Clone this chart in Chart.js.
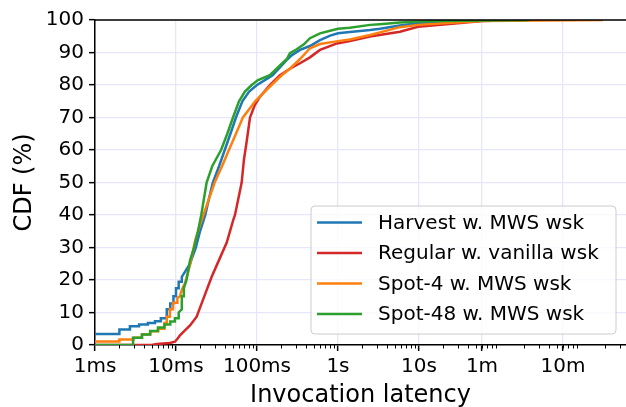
<!DOCTYPE html>
<html>
<head>
<meta charset="utf-8">
<script src="https://cdn.jsdelivr.net/npm/chart.js@4"></script>
<style>
  html, body { margin: 0; padding: 0; background: #fff; }
</style>
</head>
<body>
<canvas id="cdfChart" width="626" height="407"></canvas>
<script>
// latency in seconds, CDF in percent
const harvestLatency = [0.001, 0.002, 0.002, 0.0027, 0.0027, 0.0035, 0.0035, 0.0045, 0.0045, 0.0055, 0.0055, 0.0065, 0.0065, 0.0077, 0.0077, 0.0085, 0.0085, 0.0093, 0.0093, 0.0100, 0.0100, 0.0108, 0.0108, 0.0118, 0.0118, 0.0129, 0.0149, 0.0176, 0.0198, 0.023, 0.0255, 0.0285, 0.034, 0.040, 0.047, 0.055, 0.066, 0.080, 0.100, 0.125, 0.156, 0.202, 0.240, 0.270, 0.340, 0.451, 0.600, 0.800, 1.0, 1.4, 2.5, 3.3, 5.8, 9.7, 20, 60, 150];
const harvestCdf = [3.4, 3.4, 4.8, 4.8, 5.8, 5.8, 6.3, 6.3, 6.8, 6.8, 7.3, 7.3, 8.2, 8.2, 11, 11, 12.8, 12.8, 15, 15, 17.5, 17.5, 19.5, 19.5, 21, 22.5, 25, 30, 35, 40, 45, 50, 55, 60, 65, 70, 75, 78, 80, 81.5, 83, 86, 88, 89.2, 90.8, 92, 93.8, 95.2, 95.9, 96.3, 96.9, 97.3, 98.3, 99.0, 99.5, 99.8, 100];

const regularLatency = [0.001, 0.005, 0.0058, 0.0084, 0.0097, 0.0105, 0.0112, 0.0129, 0.0149, 0.018, 0.0239, 0.0276, 0.0318, 0.0423, 0.051, 0.0535, 0.0647, 0.069, 0.074, 0.082, 0.094, 0.109, 0.144, 0.192, 0.255, 0.340, 0.451, 0.600, 0.972, 1.406, 2.483, 5.825, 9.725, 30, 60, 200];
const regularCdf = [0, 0, 0.3, 0.6, 1, 2, 3, 4.5, 6, 8.7, 16.9, 21, 24.5, 31.5, 38.5, 40, 50, 57, 62, 70, 73.8, 76.4, 80, 83, 85, 86.7, 88.5, 90.8, 92.8, 93.5, 94.9, 96.4, 97.9, 99, 99.7, 100];

const spot4Latency = [0.001, 0.002, 0.002, 0.003, 0.003, 0.0038, 0.0038, 0.0048, 0.0048, 0.006, 0.006, 0.0072, 0.0072, 0.0077, 0.0077, 0.0084, 0.0084, 0.0092, 0.0092, 0.0104, 0.0104, 0.0112, 0.0118, 0.0129, 0.0149, 0.0172, 0.0198, 0.0218, 0.030, 0.037, 0.045, 0.055, 0.067, 0.095, 0.125, 0.151, 0.202, 0.255, 0.340, 0.451, 0.600, 1.0, 1.4, 2.5, 5.8, 9.7, 20, 60, 1870];
const spot4Cdf = [1.1, 1.1, 1.7, 1.7, 2.2, 2.2, 3.2, 3.2, 4.2, 4.2, 5, 5, 6.8, 6.8, 8.7, 8.7, 11, 11, 13, 13, 14.5, 15, 17, 19, 24.6, 32, 37, 40, 50, 55, 60, 65, 70, 75, 78, 80, 83, 85, 88, 91.3, 92.6, 93.5, 94, 95.4, 97.8, 98.5, 99, 99.7, 100];

const spot48Latency = [0.001, 0.00295, 0.00295, 0.0038, 0.0038, 0.0048, 0.0048, 0.006, 0.006, 0.0072, 0.0072, 0.0085, 0.0085, 0.0097, 0.0097, 0.0108, 0.0108, 0.0118, 0.0118, 0.0125, 0.0125, 0.0135, 0.0149, 0.0167, 0.0187, 0.0205, 0.0239, 0.028, 0.036, 0.043, 0.0506, 0.060, 0.071, 0.086, 0.103, 0.144, 0.192, 0.234, 0.255, 0.309, 0.380, 0.451, 0.600, 0.800, 1.0, 1.4, 2.5, 3.3, 5.8, 9.7, 30, 230];
const spot48Cdf = [0, 0, 2.2, 2.2, 3.2, 3.2, 4.3, 4.3, 5.4, 5.4, 6.3, 6.3, 7.2, 7.2, 8.2, 8.2, 10, 11, 15, 15, 17.5, 20, 26, 30, 35, 40, 50, 55, 60, 65, 70, 75, 78, 80, 81.5, 83, 86, 88, 89.8, 91, 92.5, 94.4, 95.9, 96.7, 97.3, 97.6, 98.5, 98.7, 99.2, 99.5, 99.8, 100];

const seriesLabels = ['Harvest w. MWS wsk', 'Regular w. vanilla wsk', 'Spot-4 w. MWS wsk', 'Spot-48 w. MWS wsk'];
const seriesColors = ['#1f77b4', '#d62728', '#ff7f0e', '#2ca02c'];

const xTickValues = [0.001, 0.01, 0.1, 1, 10, 60, 600];
const xTickLabels = ['1ms', '10ms', '100ms', '1s', '10s', '1m', '10m'];

const FONT = 'DejaVu Sans';
const gridColor = '#e6e6fa';

function toPoints(xs, ys) {
  return xs.map((x, i) => ({ x: x, y: ys[i] }));
}

const seriesData = [
  toPoints(harvestLatency, harvestCdf),
  toPoints(regularLatency, regularCdf),
  toPoints(spot4Latency, spot4Cdf),
  toPoints(spot48Latency, spot48Cdf)
];

// top spine + log minor ticks on the x axis
const axisExtras = {
  id: 'axisExtras',
  afterDatasetsDraw(chart) {
    const { ctx, chartArea, scales } = chart;
    const x = scales.x;
    ctx.save();
    ctx.strokeStyle = '#000';
    ctx.lineWidth = 1.5;
    ctx.beginPath();
    ctx.moveTo(chartArea.left, chartArea.top);
    ctx.lineTo(chartArea.right, chartArea.top);
    ctx.stroke();

    ctx.lineWidth = 1;
    for (let e = -3; e <= 3; e++) {
      for (let k = 2; k <= 9; k++) {
        const v = k * Math.pow(10, e);
        if (v > x.max) break;
        const px = Math.round(x.getPixelForValue(v)) + 0.5;
        ctx.beginPath();
        ctx.moveTo(px, chartArea.bottom);
        ctx.lineTo(px, chartArea.bottom + 3.5);
        ctx.stroke();
      }
    }
    ctx.restore();
  }
};

// legend box in the lower right corner of the plot
const cornerLegend = {
  id: 'cornerLegend',
  afterDraw(chart) {
    const { ctx, chartArea } = chart;
    const rowH = 30.5;
    const boxW = 305;
    const boxH = 128;
    const bx = chartArea.right - 10 - boxW;
    const by = chartArea.bottom - 11 - boxH;
    ctx.save();
    ctx.beginPath();
    ctx.roundRect(bx, by, boxW, boxH, 4);
    ctx.fillStyle = 'rgba(255,255,255,0.8)';
    ctx.fill();
    ctx.strokeStyle = '#cccccc';
    ctx.lineWidth = 1;
    ctx.stroke();

    ctx.font = '20px "' + FONT + '"';
    ctx.textBaseline = 'middle';
    ctx.fillStyle = '#000';
    chart.data.datasets.forEach((ds, i) => {
      const cy = by + 16.5 + i * rowH;
      ctx.strokeStyle = ds.borderColor;
      ctx.lineWidth = 2.5;
      ctx.beginPath();
      ctx.moveTo(bx + 6, cy);
      ctx.lineTo(bx + 51, cy);
      ctx.stroke();
      ctx.fillText(ds.label, bx + 67, cy + 1);
    });
    ctx.restore();
  }
};

new Chart(document.getElementById('cdfChart'), {
  type: 'scatter',
  data: {
    datasets: seriesData.map((pts, i) => ({
      label: seriesLabels[i],
      data: pts,
      borderColor: seriesColors[i],
      backgroundColor: seriesColors[i],
      borderWidth: 2.5,
      showLine: true,
      pointRadius: 0,
      tension: 0,
      order: 4 - i
    }))
  },
  options: {
    responsive: false,
    animation: false,
    layout: { padding: { top: 20, right: 0, left: 0, bottom: 0 } },
    plugins: {
      legend: { display: false },
      tooltip: { enabled: false }
    },
    scales: {
      x: {
        type: 'logarithmic',
        min: 0.001,
        max: 3600,
        afterBuildTicks: scale => {
          scale.ticks = xTickValues.map(v => ({ value: v }));
        },
        afterFit: scale => { scale.height = 62; },
        ticks: {
          autoSkip: false,
          maxRotation: 0,
          padding: 4,
          color: '#000',
          font: { family: FONT, size: 20 },
          callback: (value, index) => xTickLabels[index]
        },
        grid: { color: gridColor, lineWidth: 1.3, tickColor: '#000', tickLength: 6, tickWidth: 1.5 },
        border: { color: '#000', width: 1.5 },
        title: {
          display: true,
          text: 'Invocation latency',
          color: '#000',
          font: { family: FONT, size: 24 },
          padding: { top: 0, bottom: -3 }
        }
      },
      y: {
        min: 0,
        max: 100,
        afterFit: scale => { scale.width = 95; },
        ticks: {
          stepSize: 10,
          padding: 5,
          color: '#000',
          font: { family: FONT, size: 20 }
        },
        grid: { color: gridColor, lineWidth: 1.3, tickColor: '#000', tickLength: 6, tickWidth: 1.5 },
        border: { color: '#000', width: 1.5 },
        title: {
          display: true,
          text: 'CDF (%)',
          color: '#000',
          font: { family: FONT, size: 24 },
          padding: { top: 10, bottom: 0 }
        }
      }
    }
  },
  plugins: [axisExtras, cornerLegend]
});
</script>
</body>
</html>
